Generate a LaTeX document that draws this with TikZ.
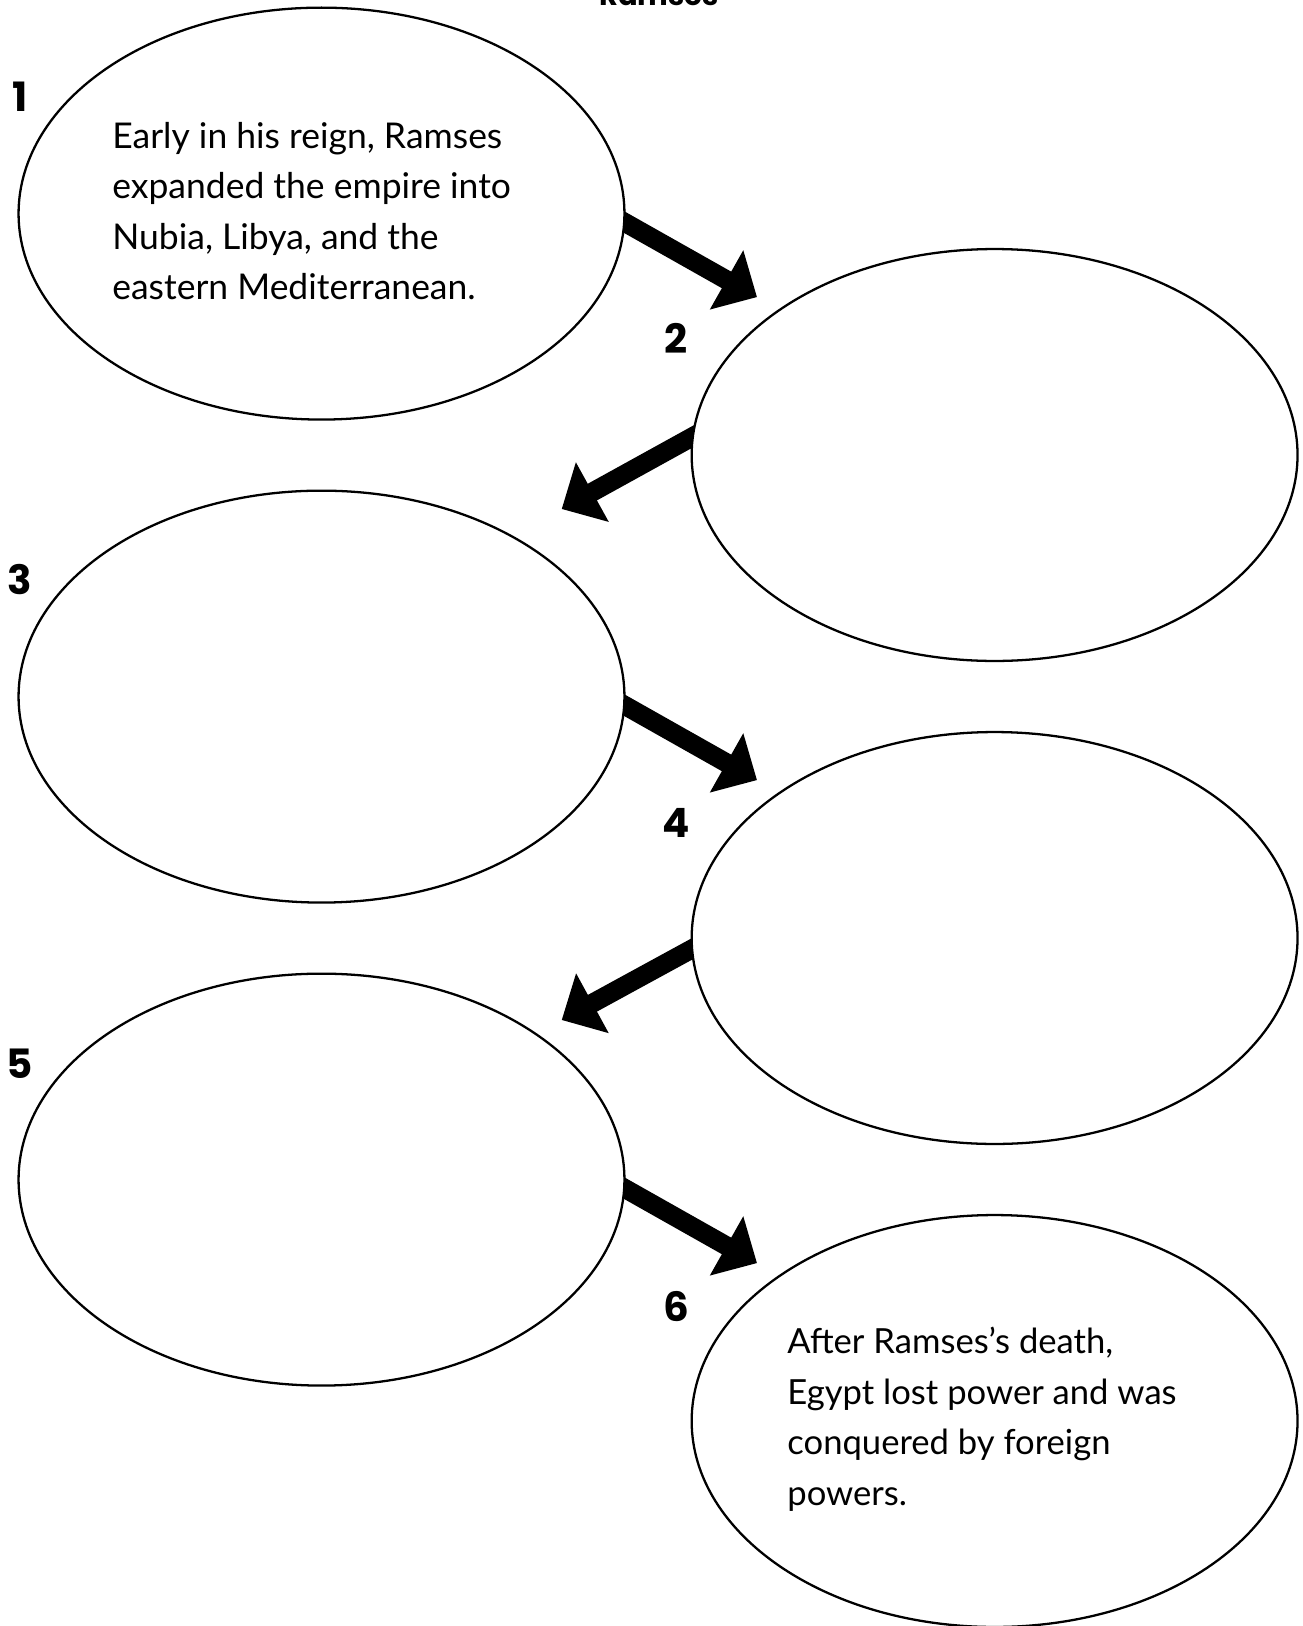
\documentclass[tikz,border=0pt]{standalone}
\usepackage{fontspec}
\setmainfont{Lato}
\newfontfamily\numfont{Poppins}
\usetikzlibrary{shapes.geometric,arrows.meta,calc,backgrounds}
\begin{document}
\begin{tikzpicture}[x=0.02cm,y=-0.02cm,
  bubble/.style={ellipse, draw, line width=1.3pt, fill=white,
    minimum width=12.12cm, minimum height=8.24cm, inner sep=0pt},
  bigarrow/.style={line width=0.38cm, -{Triangle[length=0.7cm,width=1.32cm]}},
  stepnum/.style={font=\numfont\bfseries\fontsize{23pt}{23pt}\selectfont,
    anchor=base, inner sep=0pt},
  bodytext/.style={align=left, anchor=base west, inner sep=0pt}
]
% page
\path[use as bounding box] (0,0) rectangle (1302,1626);

% title, partly above the page edge
\node[font=\numfont\bfseries\fontsize{16.5pt}{16.5pt}\selectfont, anchor=base, inner sep=0pt]
  (title) at (659,6) {Ramses};

% the six bubbles
\node[bubble] (e1) at (321.5,213.6) {};
\node[bubble] (e2) at (994.6,455) {};
\node[bubble] (e3) at (321.5,696.6) {};
\node[bubble] (e4) at (994.6,938) {};
\node[bubble] (e5) at (321.5,1179.6) {};
\node[bubble] (e6) at (994.6,1421) {};

% step numbers
\node[stepnum] (n1) at (20,111.5) {1};
\node[stepnum] (n2) at (676.5,353.5) {2};
\node[stepnum] (n3) at (20,594.5) {3};
\node[stepnum] (n4) at (676.5,837.5) {4};
\node[stepnum] (n5) at (20,1078) {5};
\node[stepnum] (n6) at (676.5,1321) {6};

% texts (base anchor = baseline of the last line)
\node[bodytext, font=\fontsize{20.2pt}{28.7pt}\selectfont] (t1)
  at ($(e1.center)+(-209.5,86)$)
  {Early in his reign, Ramses\\expanded the empire into\\Nubia, Libya, and the\\eastern Mediterranean.};
\node[bodytext, font=\fontsize{19.7pt}{28.7pt}\selectfont] (t6)
  at ($(e6.center)+(-207.6,84)$)
  {After Ramses’s death,\\Egypt lost power and was\\conquered by foreign\\powers.};

% arrow end points
\coordinate (a1s) at ($(e1.center)+(277.5,-5.7)$);
\coordinate (a1e) at ($(e1.center)+(435.5,83.5)$);
\coordinate (a2s) at ($(e2.center)+(-275.3,-33)$);
\coordinate (a2e) at ($(e2.center)+(-432.9,54)$);
\coordinate (a3s) at ($(e3.center)+(277.5,-5.7)$);
\coordinate (a3e) at ($(e3.center)+(435.5,83.5)$);
\coordinate (a4s) at ($(e4.center)+(-275.3,-4)$);
\coordinate (a4e) at ($(e4.center)+(-432.9,82)$);
\coordinate (a5s) at ($(e5.center)+(277.5,-5.7)$);
\coordinate (a5e) at ($(e5.center)+(435.5,83.5)$);

% arrows sit behind the white bubbles
\begin{pgfonlayer}{background}
  \fill[white] (0,0) rectangle (1302,1626);
  \draw[bigarrow] (a1s) -- (a1e);
  \draw[bigarrow] (a2s) -- (a2e);
  \draw[bigarrow] (a3s) -- (a3e);
  \draw[bigarrow] (a4s) -- (a4e);
  \draw[bigarrow] (a5s) -- (a5e);
\end{pgfonlayer}
\end{tikzpicture}
\end{document}
